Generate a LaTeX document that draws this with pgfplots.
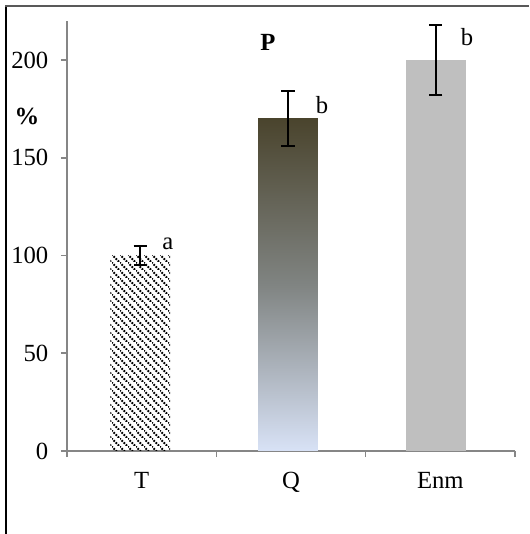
\documentclass[border=0pt]{standalone}
\usepackage{pgfplots}
\pgfplotsset{compat=1.18}
\usepackage{fontspec}
\setmainfont{Liberation Serif}
\usetikzlibrary{patterns.meta}
\definecolor{qtop}{RGB}{74,68,45}
\definecolor{qmid}{RGB}{128,132,130}
\definecolor{qbot}{RGB}{216,226,246}
\definecolor{enm}{RGB}{191,191,191}
\definecolor{axgray}{RGB}{134,134,134}
\tikzdeclarepattern{
  name=dashdiag,
  type=uncolored,
  bottom left={(0pt,0pt)},
  top right={(6pt,6pt)},
  tile size={(6pt,6pt)},
  code={\draw[line width=1.6pt, dash pattern=on 1.5pt off 1.0pt] (-0.5pt,6.5pt) -- (6.5pt,-0.5pt);}
}
\begin{document}
\begin{tikzpicture}
\begin{axis}[
  name=ax,
  at={(0,0)}, anchor=south west,
  scale only axis,
  width=336pt, height=322.5pt,
  xmin=0.5, xmax=3.5, ymin=0, ymax=220,
  axis x line*=bottom, axis y line*=left,
  axis line style={axgray, line width=1.2pt},
  xtick={1,2,3}, xticklabels={T,Q,Enm},
  major x tick style={draw=none},
  minor xtick={0.5,1.5,2.5,3.5},
  minor x tick style={axgray, line width=1.2pt},
  minor tick length=4.5pt,
  ytick={0,50,100,150,200},
  y tick style={axgray, line width=1.2pt},
  major tick length=4.5pt,
  tick align=outside,
  tick label style={font=\fontsize{18.5}{20}\selectfont},
  /pgf/number format/assume math mode=true,
  yticklabel style={xshift=-6pt},
  xticklabel style={yshift=-8pt},
  clip=false,
  bar width=0.4,
]
\addplot[ybar, bar shift=0pt, draw=none, pattern={dashdiag}, pattern color=black,
  error bars/.cd, y dir=both, y explicit,
  error bar style={black, line width=1.5pt},
  error mark options={black, line width=1.5pt, mark size=4.9pt, rotate=90}]
  coordinates {(0.99,100) +- (0,5)};
\addplot[ybar, bar shift=0pt, draw=none, top color=qtop, bottom color=qbot, middle color=qmid,
  error bars/.cd, y dir=both, y explicit,
  error bar style={black, line width=1.5pt},
  error mark options={black, line width=1.5pt, mark size=4.9pt, rotate=90}]
  coordinates {(1.98,170) +- (0,14)};
\addplot[ybar, bar shift=0pt, draw=none, fill=enm,
  error bars/.cd, y dir=both, y explicit,
  error bar style={black, line width=1.5pt},
  error mark options={black, line width=1.5pt, mark size=4.9pt, rotate=90}]
  coordinates {(2.97,200) +- (0,18)};
\node[font=\fontsize{18.5}{20}\selectfont] at (axis cs:1.176,106) {a};
\node[font=\fontsize{18.5}{20}\selectfont] at (axis cs:2.208,177) {b};
\node[font=\fontsize{18.5}{20}\selectfont] at (axis cs:3.179,212) {b};
\node[font=\fontsize{18.5}{20}\selectfont\bfseries] at (axis cs:1.846,209) {P};
\node[font=\fontsize{18.5}{20}\selectfont\bfseries] at (axis cs:0.232,171) {\%};
\end{axis}
\begin{scope}[shift={(ax.south west)}]
\path[use as bounding box] (-50.25pt,-62.25pt) rectangle (346.5pt,338.25pt);
\draw[black, line width=1.1pt] (-45.75pt,-62.25pt) -- (-45.75pt,333.75pt);
\draw[gray!70!black, line width=1.3pt] (-46.3pt,333.75pt) -- (346.5pt,333.75pt);
\end{scope}
\end{tikzpicture}
\end{document}
